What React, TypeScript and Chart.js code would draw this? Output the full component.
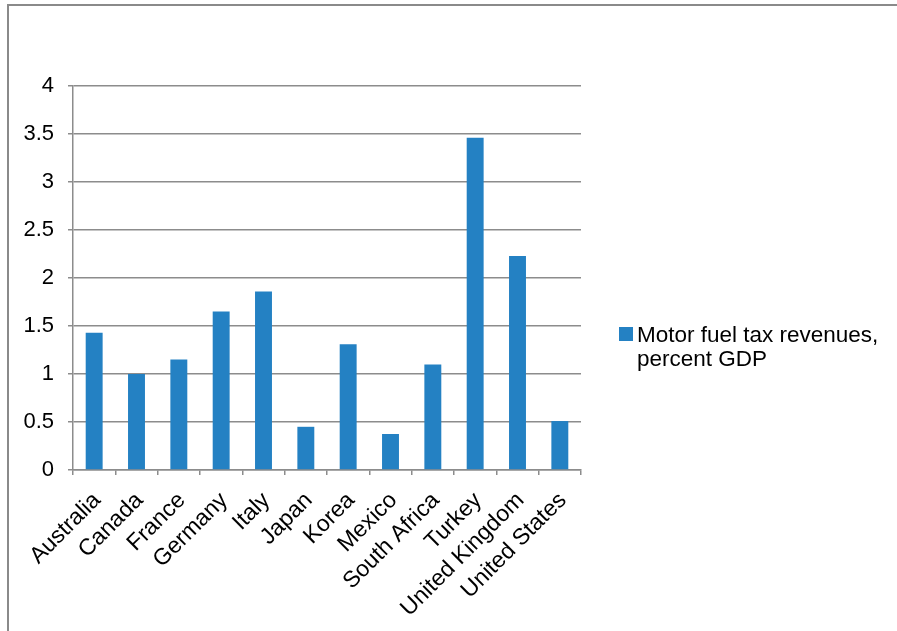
import React, { useEffect, useRef } from 'react';
import { Chart, registerables } from 'chart.js';

Chart.register(...registerables);

const countries = [
  'Australia', 'Canada', 'France', 'Germany', 'Italy', 'Japan',
  'Korea', 'Mexico', 'South Africa', 'Turkey', 'United Kingdom', 'United States',
];
const fuelTaxShare = [1.43, 1.0, 1.15, 1.65, 1.86, 0.45, 1.31, 0.375, 1.1, 3.46, 2.23, 0.51];
const seriesLabelLines = ['Motor fuel tax revenues,', 'percent GDP'];
const yMin = 0;
const yMax = 4;
const yStep = 0.5;

const FONT = '"Liberation Sans", Arial, Helvetica, sans-serif';
const BAR_COLOR = '#2481c3';
const GRID_COLOR = '#8c8c8c';

const sideLegend = {
  id: 'sideLegend',
  afterDraw(chart: any) {
    const { ctx, chartArea } = chart;
    const ds = chart.data.datasets[0];
    const x0 = chartArea.right + 38;
    const y0 = 327;
    ctx.save();
    ctx.fillStyle = ds.backgroundColor;
    ctx.fillRect(x0, y0, 14, 14);
    ctx.fillStyle = '#000';
    ctx.font = `22.5px ${FONT}`;
    ctx.textBaseline = 'alphabetic';
    ctx.textAlign = 'left';
    seriesLabelLines.forEach((line, i) => {
      ctx.fillText(line, x0 + 18, y0 + 15 + i * 23.5);
    });
    ctx.restore();
  },
};

export default function App() {
  const canvasRef = useRef<HTMLCanvasElement | null>(null);

  useEffect(() => {
    const canvas = canvasRef.current;
    if (!canvas) return;
    const chart = new Chart(canvas, {
      type: 'bar',
      data: {
        labels: countries,
        datasets: [
          {
            label: seriesLabelLines.join(' '),
            data: fuelTaxShare,
            backgroundColor: BAR_COLOR,
            borderWidth: 0,
            barPercentage: 0.4,
            categoryPercentage: 1,
          },
        ],
      },
      options: {
        responsive: false,
        animation: false,
        devicePixelRatio: 1,
        layout: { padding: { left: 0, top: 86, right: 316, bottom: 0 } },
        plugins: {
          legend: { display: false },
          tooltip: { enabled: false },
          title: { display: false },
        },
        scales: {
          x: {
            grid: {
              display: true,
              drawOnChartArea: false,
              drawTicks: true,
              tickLength: 5,
              color: GRID_COLOR,
              lineWidth: 1.5,
            },
            border: { display: true, color: GRID_COLOR, width: 1.5 },
            ticks: {
              minRotation: 45,
              maxRotation: 45,
              autoSkip: false,
              padding: 12,
              labelOffset: 3,
              color: '#000',
              font: { family: FONT, size: 23 },
            },
            afterFit: (scale: any) => {
              scale.height = 161;
            },
          },
          y: {
            min: yMin,
            max: yMax,
            grid: {
              color: GRID_COLOR,
              lineWidth: 1.5,
              tickLength: 5,
              drawTicks: true,
            },
            border: { display: true, color: GRID_COLOR, width: 1.5 },
            ticks: {
              stepSize: yStep,
              padding: 14,
              color: '#000',
              font: { family: FONT, size: 22 },
              callback: (v: any) => String(v),
            },
            afterFit: (scale: any) => {
              scale.width = 73;
            },
          },
        },
      },
      plugins: [sideLegend],
    });
    return () => chart.destroy();
  }, []);

  return (
    <div
      style={{
        position: 'fixed',
        left: 0,
        top: 0,
        width: 897,
        height: 631,
        overflow: 'hidden',
        background: '#fff',
      }}
    >
      <canvas
        ref={canvasRef}
        width={897}
        height={631}
        style={{ position: 'absolute', left: 0, top: 0, width: 897, height: 631 }}
      />
      <div
        style={{
          position: 'absolute',
          left: 7,
          top: 4,
          width: 1000,
          height: 1000,
          borderTop: '2px solid #8a8a8a',
          borderLeft: '2px solid #8a8a8a',
          pointerEvents: 'none',
        }}
      />
    </div>
  );
}
